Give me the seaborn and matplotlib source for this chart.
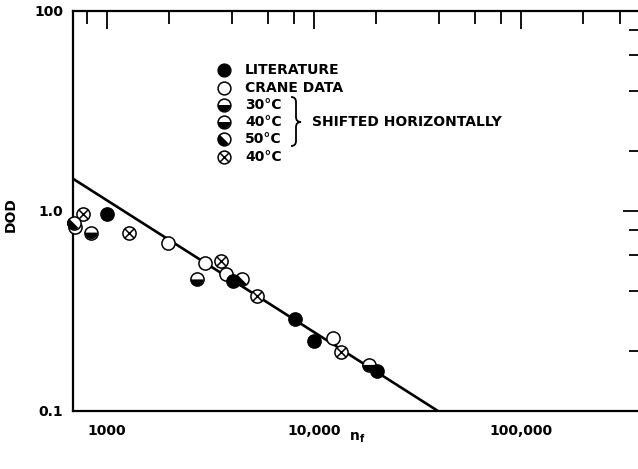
import matplotlib
matplotlib.use("Agg")
import matplotlib.pyplot as plt
from matplotlib.markers import MarkerStyle
from matplotlib.transforms import Affine2D
from matplotlib.path import Path
from matplotlib.patches import PathPatch
import seaborn as sns

# cycles to failure (n_f) vs depth of discharge
lit_n = [1000, 4060, 8090, 10000, 20150]
lit_dod = [0.97, 0.445, 0.287, 0.225, 0.159]

crane_n = [700, 1970, 2975, 3760, 12350]
crane_dod = [0.83, 0.69, 0.548, 0.483, 0.233]

c30_n = [2720]
c30_dod = [0.455]
c40_n = [840, 18440]
c40_dod = [0.78, 0.170]
c50_n = [690, 4490]
c50_dod = [0.87, 0.455]

x40_n = [765, 1280, 3550, 5300, 13500]
x40_dod = [0.97, 0.775, 0.561, 0.378, 0.198]

fit_n = [685, 39700]
fit_dod = [1.45, 0.1]

x_major = [1000, 10000, 100000]
x_major_labels = ["1000", "10,000", "100,000"]
x_minor = [800, 2000, 4000, 6000, 8000, 20000, 40000, 60000, 80000, 200000, 300000]
y_major = [0.1, 1, 10]
y_major_labels = ["0.1", "1.0", "100"]
y_minor = [0.2, 0.4, 0.6, 0.8, 2, 4, 6, 8]

legend_rows = ["LITERATURE", "CRANE DATA", "30°C", "40°C", "50°C", "40°C"]

sns.set_style("white")
plt.rcParams["font.family"] = ["DejaVu Sans"]
plt.rcParams["mathtext.default"] = "regular"
plt.rcParams["text.color"] = "black"
plt.rcParams["axes.labelcolor"] = "black"

MS = 90     # marker area
LW = 1.1    # marker edge width


def open_pts(ax, n, dod, **kw):
    sns.scatterplot(x=n, y=dod, ax=ax, marker="o", s=MS, color="white",
                    edgecolor="black", linewidth=LW, zorder=3, clip_on=False, **kw)


def half_pts(ax, n, dod, fill, rot=0, **kw):
    open_pts(ax, n, dod, **kw)
    m = MarkerStyle("o", fillstyle=fill, transform=Affine2D().rotate_deg(rot))
    sns.scatterplot(x=n, y=dod, ax=ax, marker=m, s=MS, color="black",
                    edgecolor="none", linewidth=0, zorder=4, clip_on=False, **kw)


def cross_pts(ax, n, dod, **kw):
    open_pts(ax, n, dod, **kw)
    sns.scatterplot(x=n, y=dod, ax=ax, marker="x", s=MS * 0.5, color="black",
                    linewidth=LW, zorder=4, clip_on=False, **kw)


def full_pts(ax, n, dod, **kw):
    sns.scatterplot(x=n, y=dod, ax=ax, marker="o", s=MS, color="black",
                    edgecolor="black", linewidth=LW, zorder=5, clip_on=False, **kw)


fig = plt.figure(figsize=(6.38, 4.69), dpi=100)
ax = fig.add_axes([73 / 638, 58 / 469, 568 / 638, 400 / 469])

sns.lineplot(x=fit_n, y=fit_dod, ax=ax, color="black", linewidth=1.9, zorder=2)

open_pts(ax, crane_n, crane_dod)
cross_pts(ax, x40_n, x40_dod)
half_pts(ax, c30_n, c30_dod, "bottom")
half_pts(ax, c40_n, c40_dod, "bottom")
half_pts(ax, c50_n, c50_dod, "left", rot=45)
full_pts(ax, lit_n, lit_dod)

ax.set_xscale("log")
ax.set_yscale("log")
ax.set_xlim(685, 380000)
ax.set_ylim(0.1, 10)

ax.set_xticks(x_major)
ax.set_xticklabels(x_major_labels)
ax.set_xticks(x_minor, minor=True)
ax.set_xticklabels([], minor=True)
ax.set_yticks(y_major)
ax.set_yticklabels(y_major_labels)
ax.set_yticks(y_minor, minor=True)
ax.set_yticklabels([], minor=True)

ax.tick_params(which="both", direction="in", top=True, right=True,
               width=1.3, colors="black", labelsize=10)
ax.tick_params(which="major", length=13)
ax.tick_params(which="minor", length=9)
ax.tick_params(axis="x", which="major", pad=9)
ax.tick_params(axis="y", which="major", pad=7)
for lab in ax.get_xticklabels() + ax.get_yticklabels():
    lab.set_fontweight("bold")

for s in ax.spines.values():
    s.set_linewidth(1.6)
    s.set_color("black")

ax.set_xlabel(r"n$_{f}$", fontsize=10, fontweight="bold")
ax.xaxis.set_label_coords((357 - 73) / 568, -0.05)
ax.set_ylabel("DOD", fontsize=10, fontweight="bold")
ax.yaxis.set_label_coords(-(73 - 18) / 568, (411 - 215) / 400)

# hand drawn key inside the plot
mx, tx = 0.266, 0.303
rows_y = [0.8525, 0.8075, 0.765, 0.7225, 0.68, 0.635]
tr = ax.transAxes
kw = dict(transform=tr, s=85, clip_on=False)
ax.scatter([mx], [rows_y[0]], color="black", **kw)
ax.scatter([mx], [rows_y[1]], color="white", edgecolor="black", linewidth=LW, **kw)
for i, (fill, rot) in enumerate([("bottom", 0), ("bottom", 0), ("left", 45)]):
    y = rows_y[2 + i]
    ax.scatter([mx], [y], color="white", edgecolor="black", linewidth=LW, **kw)
    m = MarkerStyle("o", fillstyle=fill, transform=Affine2D().rotate_deg(rot))
    ax.scatter([mx], [y], marker=m, color="black", edgecolor="none", **kw)
ax.scatter([mx], [rows_y[5]], color="white", edgecolor="black", linewidth=LW, **kw)
ax.scatter([mx], [rows_y[5]], marker="x", color="black", linewidth=LW,
           transform=tr, s=42, clip_on=False)
for y, txt in zip(rows_y, legend_rows):
    ax.text(tx, y, txt, transform=tr, fontsize=10, fontweight="bold",
            va="center", ha="left")

# thin curly brace grouping the shifted series (pixel layout -> axes fraction)
def px(x, y):
    return ((x - 73) / 568, (411 - y) / 400)

brace = Path(
    [px(291, 97), px(296, 97), px(296, 102), px(296, 117), px(296, 122),
     px(301, 122), px(296, 122), px(296, 127), px(296, 141), px(296, 146),
     px(291, 146)],
    [Path.MOVETO, Path.CURVE3, Path.CURVE3, Path.LINETO, Path.CURVE3,
     Path.CURVE3, Path.CURVE3, Path.CURVE3, Path.LINETO, Path.CURVE3,
     Path.CURVE3])
ax.add_patch(PathPatch(brace, transform=tr, fill=False, lw=1.3,
                       edgecolor="black", clip_on=False))
ax.text(0.421, 0.7225, "SHIFTED HORIZONTALLY", transform=tr, fontsize=10,
        fontweight="bold", va="center", ha="left")

fig.savefig("out.png", dpi=100)
